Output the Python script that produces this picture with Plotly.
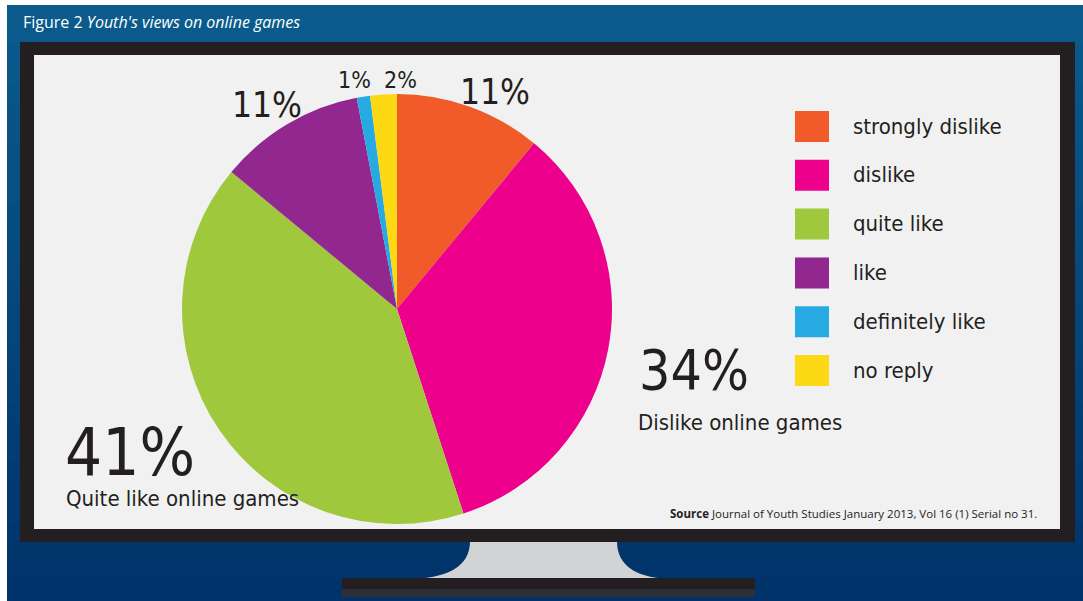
import plotly.graph_objects as go

W, H = 1083, 601

# ---- data ----
categories = ["strongly dislike", "dislike", "quite like", "like", "definitely like", "no reply"]
values = [11, 34, 41, 11, 1, 2]
colors = ["#f15a29", "#ec008c", "#a0c83d", "#92278f", "#27aae1", "#fdd915"]
title_plain = "Figure 2 "
title_italic = "Youth's views on online games"
group_labels = {"dislike": "Dislike online games", "quite like": "Quite like online games"}
source_bold = "Source"
source_text = " Journal of Youth Studies January 2013, Vol 16 (1) Serial no 31."

NARROW = "DejaVu Sans Condensed, Liberation Sans Narrow, sans-serif"
DARK = "#231f20"


def X(p):
    return p / W


def Y(p):
    return 1 - p / H


shapes = []
# blue gradient background (white page edge at top/left)
N = 30
c0 = (11, 91, 141)
c1 = (0, 51, 105)
top, bottom = 5, H
step = (bottom - top) / N
for i in range(N):
    t = i / (N - 1)
    col = "rgb(%d,%d,%d)" % tuple(round(a + (b - a) * t) for a, b in zip(c0, c1))
    y0 = round(top + step * i)
    y1 = min(H, round(top + step * (i + 1)) + 3)
    shapes.append(dict(type="rect", xref="paper", yref="paper", x0=X(7), x1=1.0,
                       y0=Y(y1), y1=Y(y0), fillcolor=col, line=dict(width=0), layer="below"))

# stand
stand_path = ("M %f,%f Q %f,%f %f,%f L %f,%f Q %f,%f %f,%f Z" % (
    X(470), Y(541), X(470), Y(579), X(405), Y(579),
    X(676), Y(579), X(617), Y(579), X(617), Y(541)))
shapes.append(dict(type="path", xref="paper", yref="paper", path=stand_path,
                   fillcolor="#d1d3d4", line=dict(width=0), layer="below"))
# base
shapes.append(dict(type="rect", xref="paper", yref="paper", x0=X(342), x1=X(755),
                   y0=Y(589), y1=Y(578), fillcolor=DARK, line=dict(width=0), layer="below"))
shapes.append(dict(type="rect", xref="paper", yref="paper", x0=X(342), x1=X(755),
                   y0=Y(597), y1=Y(589), fillcolor="#2c2f35", line=dict(width=0), layer="below"))
# tv frame
shapes.append(dict(type="rect", xref="paper", yref="paper", x0=X(20), x1=X(1075),
                   y0=Y(542), y1=Y(42), fillcolor=DARK, line=dict(width=0), layer="below"))
# screen
shapes.append(dict(type="rect", xref="paper", yref="paper", x0=X(34), x1=X(1060),
                   y0=Y(529), y1=Y(55), fillcolor="#f1f1f2", line=dict(width=0), layer="below"))

annotations = []
# title
annotations.append(dict(xref="paper", yref="paper", x=X(21), y=Y(22), xanchor="left", yanchor="middle",
                        text=title_plain + "<i>" + title_italic + "</i>", showarrow=False,
                        font=dict(family="Open Sans, sans-serif", size=16, color="white")))
# source
annotations.append(dict(xref="paper", yref="paper", x=X(1039), y=Y(513), xanchor="right", yanchor="middle",
                        text="<b>" + source_bold + "</b>" + source_text, showarrow=False,
                        font=dict(family="Open Sans, sans-serif", size=11.5, color=DARK)))

# legend (custom large swatches)
for i, (cat, col) in enumerate(zip(categories, colors)):
    ytop = 111 + i * 48.8
    shapes.append(dict(type="rect", xref="paper", yref="paper", x0=X(795), x1=X(829),
                       y0=Y(ytop + 31), y1=Y(ytop), fillcolor=col, line=dict(width=0), layer="above"))
    annotations.append(dict(xref="paper", yref="paper", x=X(851), y=Y(ytop + 15), xanchor="left",
                            yanchor="middle", text=cat, showarrow=False,
                            font=dict(family=NARROW, size=22, color=DARK)))

# value labels
label_pos = {
    "strongly dislike": (495, 92, 35, "center"),
    "dislike": (637, 370, 55, "left"),
    "quite like": (63, 452, 65, "left"),
    "like": (267, 105, 35, "center"),
    "definitely like": (354, 80, 23, "center"),
    "no reply": (400, 80, 23, "center"),
}
for cat, v in zip(categories, values):
    x, y, s, anc = label_pos[cat]
    annotations.append(dict(xref="paper", yref="paper", x=X(x), y=Y(y), xanchor=anc, yanchor="middle",
                            text="%d%%" % v, showarrow=False,
                            font=dict(family=NARROW, size=s, color=DARK)))
annotations.append(dict(xref="paper", yref="paper", x=X(636), y=Y(422), xanchor="left", yanchor="middle",
                        text=group_labels["dislike"], showarrow=False,
                        font=dict(family=NARROW, size=22, color=DARK)))
annotations.append(dict(xref="paper", yref="paper", x=X(64), y=Y(498), xanchor="left", yanchor="middle",
                        text=group_labels["quite like"], showarrow=False,
                        font=dict(family=NARROW, size=22, color=DARK)))

fig = go.Figure(go.Pie(
    labels=categories, values=values, sort=False, direction="clockwise", rotation=0,
    marker=dict(colors=colors, line=dict(width=0)), textinfo="none", hoverinfo="label+percent",
    domain=dict(x=[X(182), X(612)], y=[Y(524), Y(94)]), showlegend=False,
))

fig.update_layout(
    width=W, height=H, margin=dict(l=0, r=0, t=0, b=0),
    paper_bgcolor="white", plot_bgcolor="white",
    shapes=shapes, annotations=annotations, showlegend=False,
)

fig.write_html("out.html")
